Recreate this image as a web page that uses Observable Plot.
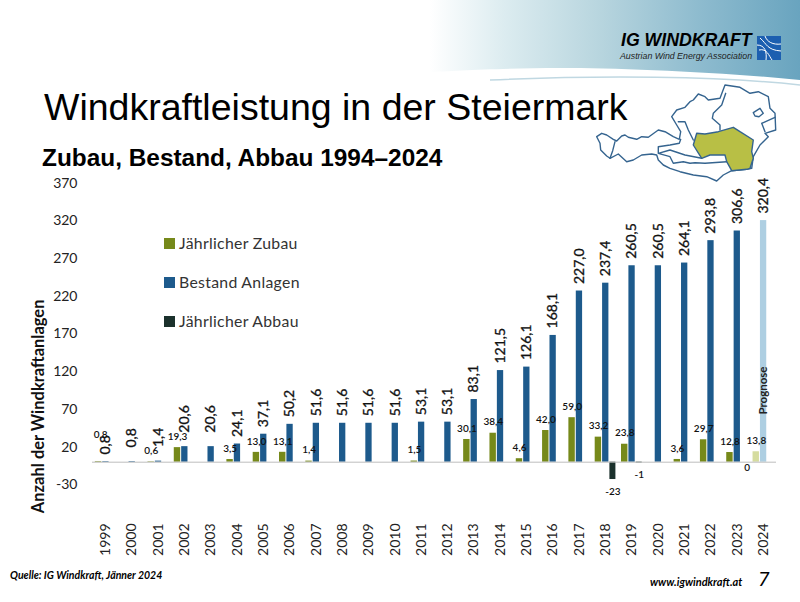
<!DOCTYPE html>
<html lang="de"><head><meta charset="utf-8">
<script src="https://cdn.jsdelivr.net/npm/d3@7"></script>
<script src="https://cdn.jsdelivr.net/npm/@observablehq/plot@0.6"></script>
<style>
html,body{margin:0;padding:0;background:#fff;overflow:hidden}
#page{position:relative;width:800px;height:602px;overflow:hidden}
#deco{position:absolute;left:0;top:0}
#chart{position:absolute;left:0;top:0}
#chart svg{background:transparent}
.t{position:absolute;white-space:nowrap;color:#000}
.lg{position:absolute;left:164px;width:11px;height:11px}
.lt{position:absolute;left:179px;font:15.8px Lato,sans-serif;color:#333;letter-spacing:.3px;white-space:nowrap;line-height:20px}
</style></head><body>
<div id="page">
<svg id="deco" width="800" height="602" viewBox="0 0 800 602">
<defs><linearGradient id="hd" gradientUnits="userSpaceOnUse" x1="430" x2="800" y1="0" y2="0">
<stop offset="0" stop-color="#ffffff"/><stop offset="0.2" stop-color="#dcecf0"/><stop offset="0.45" stop-color="#b9d6df"/><stop offset="0.72" stop-color="#8fbccf"/><stop offset="1" stop-color="#69a4bf"/></linearGradient></defs>
<path d="M430 0H800V80C720 72 620 68 560 68C500 68 450 71 430 72Z" fill="url(#hd)"/>
<path d="M490 80C600 75 720 76 800 85" fill="none" stroke="#c0d8e2" stroke-width="1.5"/>
<g transform="translate(757,36)"><rect width="24" height="24" fill="#1c5fb0"/>
<path d="M3 2C10 8 10 14 24 15M8 0C10 6 16 9 24 8M2 14C10 12 12 20 15 24M0 9C8 9 10 16 9 24" fill="none" stroke="#fff" stroke-width="1"/></g>
<g stroke-linejoin="round" stroke-linecap="round" stroke="#35648f" stroke-width="1.4">
<path fill="#fff" d="M596.7 136.7L601.7 133.3L606.7 135L613.3 139.3L616.7 141L621.7 136L625 135L628.3 137.3L636.7 139.3L641.7 136.7L648.3 137.3L658.3 130L665 131.7L673.3 136.7L679.3 139.3L680.7 131.7L676.7 125L671.7 116.7L676.7 110L685 107.3L690 101.7L693.3 100L698.3 94L705 96.7L708.3 100L720 98.3L725 85L740 87.3L750 93.3L758.3 91.7L768.3 96.7L770 108.3L775 113.3L775.7 130L765 133.3L768.3 136.7L760 145L753.3 156.7L751.7 168.3L746.7 169.3L731.7 170.7L723.3 175L716.7 181L706.7 176.7L693.3 175L680 171.7L670 168.3L663.3 165L658.3 160L656.7 155L651.7 154L641.7 155L633.3 160L626.7 161.7L618.3 154L610 158.3L606.7 156L600.7 150L600 143.3Z"/>
<path fill="none" d="M725.7 93.3L721.7 105L713.3 113.3L712.3 118.3L720 125L720 130M753.3 112.7L760 108.3L763.3 113.3L759 116.7L755 116ZM761.7 123.3L775 117.3M761.7 123.3L765 131.7M678.3 121.7L685 121.7L688.3 130L693.3 140M658.3 153.3L658.3 146.7L670 145L679.3 143.3L680.7 139.3M658.3 153.3L670 150L685 155L701.7 158.3M658.3 153.3L670 156.7L673.3 163.3L683.3 161.7L690 163.3L695 162.7L705 163.3L726.7 161.7M615 141.7L612.7 150.7L610 158.3"/>
<path fill="#b8bf45" d="M696.7 133.3L705 134L718.3 131.7L733.3 127.3L740 131.7L753.3 140L751.7 151.7L753.3 158.3L750 168.3L746.7 169.3L731.7 170.7L726.7 161.7L725 155L710 155L701.7 158.3L693.3 145Z"/>
</g>
</svg>
<div id="chart"></div>
<div class="t" style="left:621px;top:30px;font:italic bold 17.7px 'Liberation Sans',sans-serif">IG WINDKRAFT</div>
<div class="t" style="left:620px;top:51px;font:italic 8.8px 'Liberation Sans',sans-serif;color:#222">Austrian Wind Energy Association</div>
<div class="t" style="left:44px;top:86px;font:37.5px 'Liberation Sans',sans-serif">Windkraftleistung in der Steiermark</div>
<div class="t" style="left:42px;top:144px;font:bold 24.4px 'Liberation Sans',sans-serif">Zubau, Bestand, Abbau 1994–2024</div>
<div class="lg" style="top:238px;background:#76891a"></div><div class="lt" style="top:233px">Jährlicher Zubau</div>
<div class="lg" style="top:277px;background:#1d5a8c"></div><div class="lt" style="top:272px">Bestand Anlagen</div>
<div class="lg" style="top:316px;background:#1b312c"></div><div class="lt" style="top:311px">Jährlicher Abbau</div>
<div class="t" style="left:10px;top:569px;font:italic bold 10.5px Lato,sans-serif">Quelle: IG Windkraft, Jänner 2024</div>
<div class="t" style="left:650px;top:575px;font:italic bold 11px Lato,sans-serif">www.igwindkraft.at</div>
<div class="t" style="left:758px;top:566px;font:italic 20px Lato,sans-serif">7</div>
</div>
<script>
const years = [1999,2000,2001,2002,2003,2004,2005,2006,2007,2008,2009,2010,2011,2012,2013,2014,2015,2016,2017,2018,2019,2020,2021,2022,2023,2024];
const zubau = [0.8,null,0.6,19.3,null,3.5,13.0,13.1,1.4,null,null,null,1.5,null,30.1,38.4,4.6,42.0,59.0,33.2,23.8,null,3.6,29.7,12.8,13.8];
const bestand = [0.8,0.8,1.4,20.6,20.6,24.1,37.1,50.2,51.6,51.6,51.6,51.6,53.1,53.1,83.1,121.5,126.1,168.1,227.0,237.4,260.5,260.5,264.1,293.8,306.6,320.4];
const abbauYears = [2018,2019,2023];
const abbau = [-23,-1,0];
const yTicks = [-30,20,70,120,170,220,270,320,370];
const prognoseYear = 2024;
const prognoseAt = 95;
const axisTitle = "Anzahl der Windkraftanlagen";
const axisTitleAt = 74;
const colZubau = "#76891a", colZubauP = "#d5dc9f", colBestand = "#1d5a8c", colBestandP = "#aecfe2", colAbbau = "#1b312c";
const comma = v => v.toFixed(1).replace(".", ",");
const rowsZ = years.map((year,i)=>({year, value:zubau[i]})).filter(d=>d.value!=null);
const rowsB = years.map((year,i)=>({year, value:bestand[i]}));
const rowsA = abbauYears.map((year,i)=>({year, value:abbau[i]}));
const earlyYears = [2000,2001,2002,2003];
const txt = "#111";
const plot = Plot.plot({
  width:800, height:602,
  marginLeft:92, marginRight:24, marginTop:170, marginBottom:82,
  x:{type:"band", domain:years, padding:0, round:false, label:null},
  y:{domain:[-30,370], range:[484.3,182.7], label:null},
  style:{background:"transparent", fontFamily:"Lato,sans-serif"},
  marks:[
    Plot.barY(rowsZ,{x:"year",y:"value",insetLeft:2.85,insetRight:17.05,fill:d=>d.year===prognoseYear?colZubauP:colZubau}),
    Plot.barY(rowsB,{x:"year",y:"value",insetLeft:10.25,insetRight:9.75,fill:d=>d.year===prognoseYear?colBestandP:colBestand}),
    Plot.barY(rowsA,{x:"year",y:"value",insetLeft:17.55,insetRight:2.75,fill:colAbbau}),
    Plot.ruleY([0],{stroke:"#bdbdbd",strokeWidth:1}),
    Plot.axisY({ticks:yTicks,tickSize:0,tickPadding:15,fontSize:14,label:null,tickFormat:d=>String(d),fill:"#222"}),
    Plot.axisX({anchor:"bottom",tickRotate:-90,tickSize:0,tickPadding:3,fontSize:14,label:null,tickFormat:d=>String(d),fill:"#222"}),
    Plot.text(rowsB.filter(d=>!earlyYears.includes(d.year)),{x:"year",y:"value",text:d=>comma(d.value),rotate:-90,textAnchor:"start",dy:-7,fontSize:14,fill:txt,stroke:txt,strokeWidth:0.3}),
    Plot.text(rowsB.filter(d=>earlyYears.includes(d.year)),{x:"year",y:"value",text:d=>comma(d.value),rotate:-90,textAnchor:"start",dy:-14,fontSize:14,fill:txt,stroke:txt,strokeWidth:0.3}),
    Plot.text(rowsZ.slice(1),{x:"year",y:"value",text:d=>comma(d.value),dx:-7,dy:-11,fontSize:10,fontWeight:600,fill:txt}),
    Plot.text(rowsZ.slice(0,1),{x:"year",y:"value",text:d=>comma(d.value),dx:-5,dy:-27,fontSize:10,fontWeight:600,fill:txt}),
    Plot.text(rowsA.filter(d=>d.value<0),{x:"year",y:"value",text:d=>String(d.value),dx:7.4,dy:12,fontSize:10,fontWeight:600,fill:txt}),
    Plot.text(rowsA.filter(d=>d.value===0),{x:"year",y:"value",text:d=>String(d.value),dx:10,dy:6,fontSize:10,fontWeight:600,fill:txt}),
    Plot.text([prognoseAt],{x:()=>prognoseYear,y:d=>d,text:()=>"Prognose",rotate:-90,fontSize:11.5,fontWeight:700,fill:"#222"}),
    Plot.text([axisTitleAt],{frameAnchor:"left",y:d=>d,text:()=>axisTitle,rotate:-90,textAnchor:"middle",dx:-54,fontSize:16.5,fontWeight:700,fill:"#111"})
  ]
});
document.getElementById("chart").appendChild(plot);
</script>
</body></html>
